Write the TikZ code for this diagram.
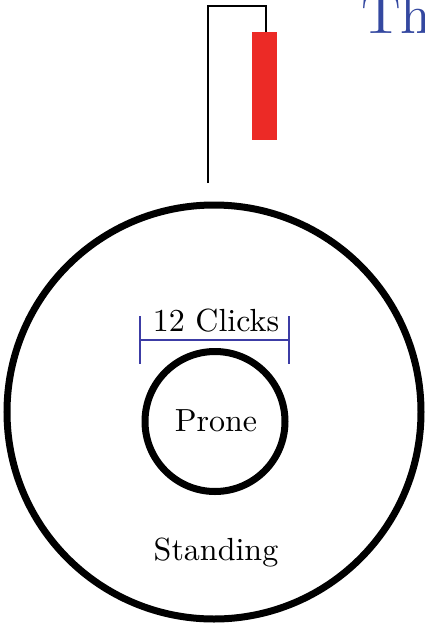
\documentclass[tikz,border=0pt]{standalone}
\usepackage{tikz}
\definecolor{titleblue}{RGB}{52,72,160}
\definecolor{brblue}{RGB}{60,60,165}
\definecolor{flagred}{RGB}{236,42,38}
\newcommand{\bigtxt}[1]{\scalebox{3.2}{#1}}
\begin{document}
\begin{tikzpicture}[x=1pt,y=-1pt,
  ring/.style={draw=black,line width=7pt,circle,inner sep=0pt},
  lbl/.style={inner sep=0pt,anchor=base},
  bracket/.style={draw=brblue,line width=1.4pt},
  pole/.style={draw=black,line width=1.5pt}]
\useasboundingbox (0,0) rectangle (425,624);
\node[ring,minimum size=414pt] (outer) at (214,412) {};
\node[ring,minimum size=140pt] (inner) at (215,421.5) {};
\node[lbl] (prone) at (216,431) {\bigtxt{Prone}};
\node[lbl] (standing) at (216,560) {\bigtxt{Standing}};
\node[lbl] (clicks) at (216,331) {\bigtxt{12 Clicks}};
\coordinate (bl) at (140,340);
\coordinate (br) at (289,340);
\draw[bracket] (140,316) -- (140,364);
\draw[bracket] (289,316) -- (289,364);
\draw[bracket] (bl) -- (br);
\coordinate (polebot) at (208,183);
\coordinate (poletop) at (208,6);
\coordinate (hook) at (266,6);
\node[fill=flagred,minimum width=25pt,minimum height=108pt,inner sep=0pt,anchor=north] (flag) at (264.5,32) {};
\draw[pole] (polebot) -- (poletop) -- (hook) -- (hook |- flag.north);
\node[text=titleblue,anchor=base west,inner sep=0pt] (title) at (361,33) {\scalebox{5.5}{Th}};
\end{tikzpicture}
\end{document}
